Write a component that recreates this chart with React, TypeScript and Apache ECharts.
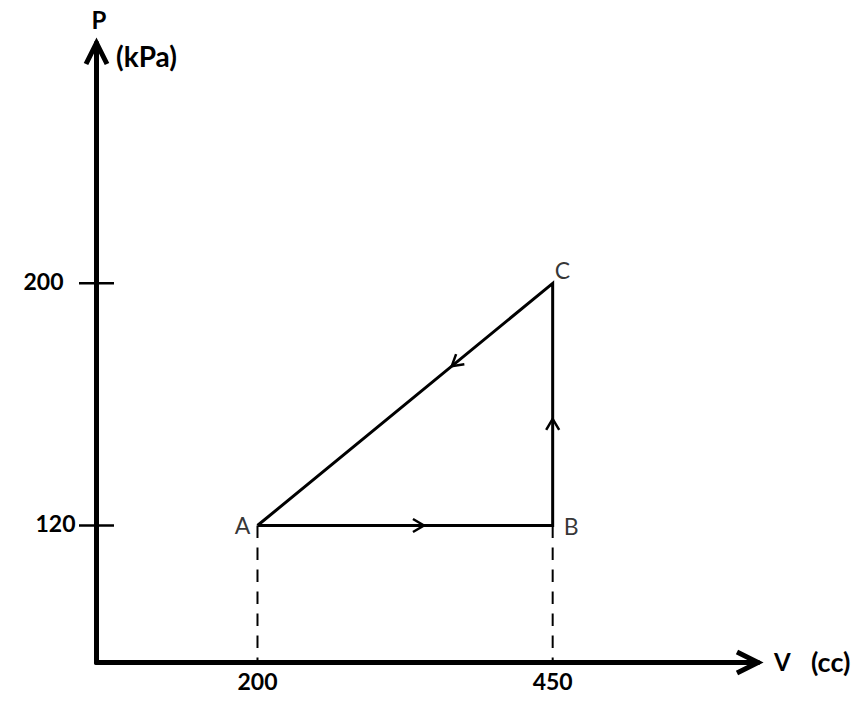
import React, { useEffect, useRef } from 'react';
import * as echarts from 'echarts';

// P-V cycle data
const pointNames = ['A', 'B', 'C'];
const volumes = [200, 450, 450]; // V (cc)
const pressures = [120, 120, 200]; // P (kPa)
const cycleOrder = ['A', 'B', 'C', 'A'];
// direction arrows drawn on each leg of the cycle
const arrowFrom = ['A', 'B', 'C'];
const arrowTo = ['B', 'C', 'A'];
const arrowFraction = [0.564, 0.44, 0.342];
// tick labels
const xTickValues = [200, 450];
const yTickValues = [120, 200];
const xAxisTitle = 'V';
const xAxisUnit = '(cc)';
const yAxisTitle = 'P';
const yAxisUnit = '(kPa)';

const X_MIN = 63.65;
const X_MAX = 623.9;
const Y_MIN = 74.75;
const Y_MAX = 279.4;

export default function App() {
  const ref = useRef<HTMLDivElement>(null);
  useEffect(() => {
    const chart = echarts.init(ref.current!, null, { renderer: 'svg' });
    const idx = (n: string) => pointNames.indexOf(n);
    const pt = (n: string) => [volumes[idx(n)], pressures[idx(n)]];
    const cycle = cycleOrder.map(pt);
    const arrowData = arrowFrom.map((f, i) => {
      const a = pt(f);
      const b = pt(arrowTo[i]);
      const t = arrowFraction[i];
      return [a[0] + t * (b[0] - a[0]), a[1] + t * (b[1] - a[1]), i];
    });
    const labelPos: any = {
      A: { position: 'left', distance: 7, offset: [0, -1] },
      B: { position: 'right', distance: 11, offset: [0, 0] },
      C: { position: 'right', distance: 2, offset: [0, -13] },
    };
    const numFont = { fontFamily: 'Lato', fontWeight: 'bold', fontSize: 23, color: '#000' };
    const titleStyle = (text: string, size: number, align: string) => ({
      text,
      fontFamily: 'Lato',
      fontWeight: 'bold',
      fontSize: size,
      fill: '#000',
      align,
      verticalAlign: 'middle',
      textAlign: align,
      textVerticalAlign: 'middle',
    });

    chart.setOption({
      animation: false,
      backgroundColor: '#fff',
      grid: { left: 96.5, right: 106, top: 43, bottom: 53.5, containLabel: false },
      xAxis: {
        type: 'value',
        min: X_MIN,
        max: X_MAX,
        axisLine: { show: true, onZero: false, lineStyle: { color: '#000', width: 5 } },
        axisTick: { show: false },
        splitLine: { show: false },
        axisLabel: { customValues: xTickValues, margin: 7, ...numFont },
      },
      yAxis: {
        type: 'value',
        min: Y_MIN,
        max: Y_MAX,
        axisLine: { show: true, onZero: false, lineStyle: { color: '#000', width: 5 } },
        axisTick: { show: false },
        splitLine: { show: false },
        axisLabel: {
          customValues: yTickValues,
          margin: 21,
          ...numFont,
          formatter: (v: number) => (v === 200 ? '{a|' + v + '}' : '{b|' + v + '}'),
          rich: {
            a: { ...numFont, padding: [0, 12, 5, 0] },
            b: { ...numFont, padding: [0, 0, 5, 0] },
          },
        },
      },
      graphic: [
        { type: 'text', x: 99, y: 19, style: titleStyle(yAxisTitle, 24, 'center') },
        { type: 'text', x: 116, y: 56, style: titleStyle(yAxisUnit, 28, 'left') },
        { type: 'text', x: 774, y: 661, style: titleStyle(xAxisTitle, 24, 'left') },
        { type: 'text', x: 811, y: 661, style: titleStyle(xAxisUnit, 27, 'left') },
      ],
      series: [
        {
          type: 'line',
          data: cycle,
          symbol: 'none',
          silent: true,
          lineStyle: { color: '#000', width: 3, join: 'miter' },
        },
        ...pointNames.map((n) => ({
          type: 'line',
          data: [pt(n), [pt(n)[0], Y_MIN]],
          symbol: 'none',
          silent: true,
          z: 1,
          lineStyle: { color: '#000', width: 2, type: [12.5, 9.5] },
        })).filter((_, i) => pressures[i] === 120),
        {
          type: 'custom',
          silent: true,
          data: arrowData,
          renderItem: (params: any, api: any) => {
            const i = api.value(2);
            const a = api.coord(pt(arrowFrom[i]));
            const b = api.coord(pt(arrowTo[i]));
            const tip = api.coord([api.value(0), api.value(1)]);
            const dx = b[0] - a[0];
            const dy = b[1] - a[1];
            const L = Math.hypot(dx, dy);
            const ux = dx / L, uy = dy / L;
            const nx = -uy, ny = ux;
            const back = 11, lat = 6.5;
            return {
              type: 'polyline',
              shape: {
                points: [
                  [tip[0] - back * ux + lat * nx, tip[1] - back * uy + lat * ny],
                  tip,
                  [tip[0] - back * ux - lat * nx, tip[1] - back * uy - lat * ny],
                ],
              },
              style: { stroke: '#000', lineWidth: 2.5, fill: 'none' },
            };
          },
        },
        {
          type: 'custom',
          silent: true,
          data: yTickValues.map((v) => [X_MIN, v]),
          renderItem: (params: any, api: any) => {
            const p = api.coord([api.value(0), api.value(1)]);
            return {
              type: 'line',
              shape: { x1: p[0] - 17.5, y1: p[1], x2: p[0] + 17.5, y2: p[1] },
              style: { stroke: '#000', lineWidth: 2.5 },
            };
          },
        },
        {
          type: 'custom',
          silent: true,
          data: [[X_MIN, Y_MIN]],
          renderItem: (params: any, api: any) => {
            const yt = api.coord([X_MIN, Y_MAX]);
            const xt = api.coord([X_MAX, Y_MIN]);
            return {
              type: 'group',
              children: [
                {
                  type: 'polyline',
                  shape: { points: [[yt[0] - 10.5, yt[1] + 21], yt, [yt[0] + 10.5, yt[1] + 21]] },
                  style: { stroke: '#000', lineWidth: 5, fill: 'none', lineJoin: 'miter' },
                },
                {
                  type: 'polyline',
                  shape: { points: [[xt[0] - 21, xt[1] - 10.5], xt, [xt[0] - 21, xt[1] + 10.5]] },
                  style: { stroke: '#000', lineWidth: 5, fill: 'none', lineJoin: 'miter' },
                },
              ],
            };
          },
        },
        {
          type: 'scatter',
          silent: true,
          symbolSize: 0.1,
          itemStyle: { color: 'rgba(0,0,0,0)' },
          data: pointNames.map((n) => ({
            name: n,
            value: pt(n),
            label: {
              show: true,
              formatter: n,
              fontFamily: 'Lato',
              fontSize: 23,
              color: '#000',
              ...labelPos[n],
            },
          })),
        },
      ],
    });
    return () => chart.dispose();
  }, []);
  return (
    <div
      ref={ref}
      style={{ position: 'fixed', left: 0, top: 0, width: 864, height: 716, background: '#fff' }}
    />
  );
}
